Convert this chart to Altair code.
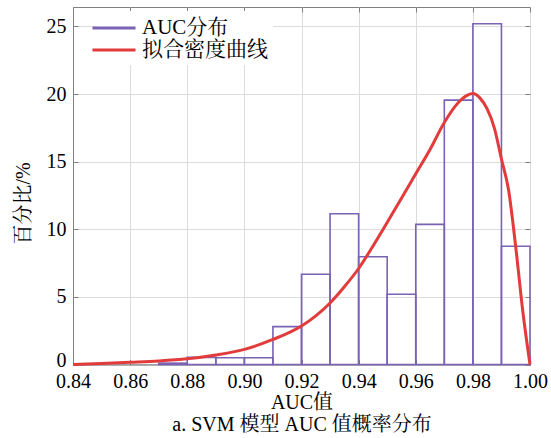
import altair as alt
import pandas as pd

# ---- data ----
bin_start = [0.87, 0.88, 0.89, 0.90, 0.91, 0.92, 0.93, 0.94, 0.95, 0.96, 0.97, 0.98, 0.99]
bin_end = [0.88, 0.89, 0.90, 0.91, 0.92, 0.93, 0.94, 0.95, 0.96, 0.97, 0.98, 0.99, 1.00]
bin_pct = [0.1, 0.53, 0.5, 0.5, 2.8, 6.67, 11.15, 7.97, 5.2, 10.36, 19.55, 25.2, 8.74]

curve_x = [0.84, 0.85, 0.86, 0.87, 0.88, 0.89, 0.90, 0.91, 0.92, 0.925, 0.93, 0.935,
           0.94, 0.945, 0.95, 0.955, 0.96, 0.965, 0.97, 0.975, 0.9775, 0.98, 0.9825,
           0.985, 0.9875, 0.99, 0.9925, 0.995, 0.9975, 1.00]
curve_y = [0.0, 0.07, 0.16, 0.26, 0.42, 0.7, 1.12, 1.85, 2.85, 3.6, 4.55, 5.75,
           7.1, 8.75, 10.5, 12.3, 14.1, 15.9, 17.9, 19.4, 19.85, 20.04, 19.7,
           18.9, 17.5, 15.2, 12.9, 8.7, 3.9, 0.0]

x_ticks = [0.84, 0.86, 0.88, 0.90, 0.92, 0.94, 0.96, 0.98, 1.00]
y_ticks = [0, 5, 10, 15, 20, 25]
series = ["AUC分布", "拟合密度曲线"]
colors = ["#7A62B5", "#E23B3B"]

bars_df = pd.DataFrame({"start": bin_start, "end": bin_end, "pct": bin_pct, "series": series[0]})
curve_df = pd.DataFrame({"x": curve_x, "y": curve_y, "series": series[1]})

W, H = 457, 357.5
FONT = "Liberation Serif, Noto Serif CJK SC, Noto Sans CJK SC"
GRAY = "#808080"

xs = alt.Scale(domain=[0.84, 1.0], nice=False, zero=False)
ys = alt.Scale(domain=[0, 26.44], nice=False)
cs = alt.Scale(domain=series, range=colors)

legend = alt.Legend(
    title=None, orient="none", legendX=24, legendY=4, direction="vertical",
    fillColor="white", padding=5, rowPadding=0,
    symbolType="M-2.05,0H2.05", symbolSize=441, symbolStrokeWidth=3,
    labelFont=FONT, labelFontSize=21, labelColor="black", labelOffset=16,
)

bars = alt.Chart(bars_df).mark_bar(filled=False, strokeWidth=1.6).encode(
    x=alt.X("start:Q", scale=xs, axis=alt.Axis(
        orient="bottom", values=x_ticks, format=".2f", grid=True, ticks=False,
        gridColor="#dcdcdc", domainColor=GRAY, labelFlush=False,
        labelFont=FONT, labelFontSize=20, labelColor="black", labelPadding=7,
        title=["AUC值", "a. SVM 模型 AUC 值概率分布"], titleFont=FONT, titleFontSize=20,
        titleFontWeight="normal", titleColor="black", titleLineHeight=22,
        titlePadding=1)),
    x2="end:Q",
    y=alt.Y("pct:Q", scale=ys, axis=alt.Axis(
        orient="left", values=y_ticks, grid=True, ticks=False,
        gridColor="#dcdcdc", domainColor=GRAY, labelFlush=False,
        labelOffset={"condition": {"test": "datum.value == 0", "value": -4}, "value": 0},
        labelFont=FONT, labelFontSize=20, labelColor="black", labelPadding=7,
        title="百分比/%", titleFont=FONT, titleFontSize=20, titleFontWeight="normal",
        titleColor="black", titleAngle=-90, titleX=-40, titleY=196,
        titleBaseline="bottom", titleAlign="center")),
    y2=alt.datum(0),
    stroke=alt.Stroke("series:N", scale=cs, legend=legend),
)

curve = alt.Chart(curve_df).mark_line(strokeWidth=3, interpolate="monotone").encode(
    x=alt.X("x:Q", scale=xs, axis=alt.Axis(
        orient="top", offset=-H, values=x_ticks, labels=False, domain=False, grid=False,
        ticks=True, tickSize=5, tickColor=GRAY, title=None)),
    y=alt.Y("y:Q", scale=ys, axis=alt.Axis(
        orient="right", offset=-W, values=y_ticks, labels=False, domain=False, grid=False,
        ticks=True, tickSize=5, tickColor=GRAY, title=None)),
    stroke=alt.Stroke("series:N", scale=cs, legend=legend),
)

frame_ticks = alt.Chart(curve_df).mark_line(strokeOpacity=0).encode(
    x=alt.X("x:Q", scale=xs, axis=alt.Axis(
        orient="bottom", offset=-H, values=x_ticks, labels=False, domain=False, grid=False,
        ticks=True, tickSize=5, tickColor=GRAY, title=None)),
    y=alt.Y("y:Q", scale=ys, axis=alt.Axis(
        orient="left", offset=-W, values=y_ticks, labels=False, domain=False, grid=False,
        ticks=True, tickSize=5, tickColor=GRAY, title=None)),
)

chart = alt.layer(bars, curve, frame_ticks).resolve_axis(
    x="independent", y="independent"
).properties(
    width=W, height=H,
    autosize=alt.AutoSizeParams(type="none"),
    padding={"left": 73, "top": 7, "right": 21, "bottom": 73.5},
    background="white",
).configure_view(stroke=GRAY, strokeWidth=1)

chart.save("out.html", embed_options={"renderer": "svg", "actions": False})
